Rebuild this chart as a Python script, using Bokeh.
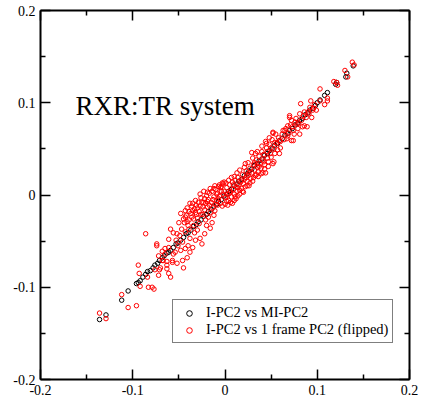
from bokeh.plotting import figure
from bokeh.models import (Range1d, LinearAxis, FixedTicker, Legend, LegendItem,
                          Label, CustomJSTickFormatter, ColumnDataSource)
from bokeh.embed import file_html
from bokeh.resources import INLINE

# ---------------- data ----------------
tick_values = [-0.2, -0.1, 0.0, 0.1, 0.2]
minor_values = [-0.15, -0.05, 0.05, 0.15]
tick_labels = ["-0.2", "-0.1", "0", "0.1", "0.2"]

series_names = ["I-PC2 vs MI-PC2", "I-PC2 vs 1 frame PC2 (flipped)"]
title_text = "RXR:TR system"

# I-PC2 vs MI-PC2 (black)
bx = [-0.136, -0.129, -0.112, -0.105, -0.096, -0.094, -0.092, -0.089, -0.086, -0.084,
      -0.081, -0.078, -0.076, -0.073, -0.071, -0.068, -0.066, -0.063, -0.061,
      -0.059, -0.056, -0.053, -0.051, -0.048, -0.045, -0.042, -0.040, -0.037, -0.034,
      -0.031, -0.029, -0.026, -0.023, -0.020, -0.018, -0.015, -0.012, -0.009, -0.007,
      -0.004, -0.001, 0.002, 0.004, 0.007, 0.010, 0.013, 0.015, 0.018, 0.021,
      0.024, 0.026, 0.029, 0.032, 0.035, 0.037, 0.040, 0.043, 0.046, 0.048,
      0.051, 0.054, 0.057, 0.059, 0.062, 0.065, 0.068, 0.070, 0.073, 0.076,
      0.079, 0.081, 0.084, 0.087, 0.090, 0.092, 0.095, 0.098,
      0.100, 0.103, 0.108, 0.111, 0.120, 0.121, 0.131, 0.132, 0.139]
by = [-0.135, -0.130, -0.114, -0.104, -0.096, -0.095, -0.093, -0.089, -0.086, -0.083,
      -0.082, -0.079, -0.076, -0.074, -0.071, -0.068, -0.066, -0.063, -0.062,
      -0.060, -0.057, -0.053, -0.052, -0.049, -0.046, -0.042, -0.041, -0.038, -0.034,
      -0.032, -0.029, -0.027, -0.023, -0.021, -0.018, -0.016, -0.012, -0.010, -0.007,
      -0.005, -0.001, 0.001, 0.004, 0.006, 0.010, 0.012, 0.015, 0.017, 0.021,
      0.023, 0.026, 0.028, 0.032, 0.034, 0.037, 0.039, 0.043, 0.045, 0.048,
      0.050, 0.054, 0.056, 0.059, 0.061, 0.065, 0.067, 0.070, 0.072, 0.076,
      0.078, 0.081, 0.083, 0.087, 0.089, 0.092, 0.094, 0.097,
      0.100, 0.103, 0.108, 0.111, 0.120, 0.122, 0.128, 0.132, 0.140]

# I-PC2 vs 1 frame PC2 (flipped) (red)
rx = [-0.136, -0.129, -0.112, -0.105, -0.096, -0.094, -0.093, -0.092,
      -0.086, -0.084, -0.083, -0.079, -0.077, -0.076, -0.074, -0.072,
      -0.072, -0.071, -0.067, -0.065, -0.063, -0.063, -0.061, -0.059,
      -0.074, -0.068, -0.065, -0.059, -0.056, -0.061, -0.052, -0.054,
      -0.057, -0.051, -0.046, -0.050, -0.048, -0.043, -0.039, -0.041,
      -0.038, -0.035, -0.032, -0.030, -0.027, -0.025, -0.022, -0.019,
      -0.016, -0.011, -0.008, -0.005, -0.002, 0.000, -0.009, -0.013,
      -0.016, -0.018, -0.014, -0.016, -0.022, -0.027, -0.025, -0.032,
      -0.035, -0.038, -0.040, -0.038, -0.041, -0.046, -0.052, -0.045,
      -0.063, -0.070, -0.068, -0.057, -0.056, -0.061, -0.044, -0.042,
      -0.040, -0.037, -0.036, -0.034, -0.033, -0.031, -0.029, -0.028,
      -0.026, -0.024, -0.023, -0.021, -0.020, -0.018, -0.017, -0.015,
      -0.014, -0.012, -0.010, -0.009, -0.007, -0.006, -0.004, -0.003,
      -0.047, -0.049, -0.053, -0.043, -0.039, -0.034, -0.030, -0.028,
      -0.024, -0.021, -0.019, -0.011, -0.008, -0.005, -0.048, -0.043,
      -0.033, -0.030, -0.020, -0.012,
      -0.001, 0.001, 0.002, 0.003, 0.004, 0.005, 0.006, 0.007,
      0.008, 0.008, 0.009, 0.010, 0.011, 0.012, 0.012, 0.013,
      0.014, 0.015, 0.016, 0.017, 0.018, 0.019, 0.019, 0.020,
      0.021, 0.022, 0.022, 0.023, 0.024, 0.025, 0.026, 0.027,
      0.028, 0.029, 0.029, 0.030, 0.031, 0.032, 0.033, 0.033,
      0.034, 0.035, 0.036, 0.037, 0.038, 0.039, 0.040, 0.041,
      0.041, 0.042, 0.043, 0.044, 0.045, 0.046, 0.047, 0.048,
      0.049, 0.050, 0.051, 0.052, 0.052, 0.053, 0.054, 0.055,
      0.056, 0.057, 0.058, 0.059, 0.060, -0.003, 0.000, 0.003,
      0.006, 0.010, 0.014, 0.016, 0.020, 0.024, 0.027, 0.031,
      0.034, 0.036, 0.039, 0.043, 0.047, 0.001, 0.004, 0.007,
      0.010, 0.013, 0.016, 0.021, 0.025, 0.030, 0.035, 0.040,
      0.044, 0.048, -0.004, -0.001,
      0.103, 0.111, 0.108, 0.103, 0.082, 0.092, 0.097, 0.081,
      0.090, 0.085, 0.094, 0.095, 0.070, 0.072, 0.068, 0.076,
      0.084, 0.089, 0.079, 0.074, 0.065, 0.068, 0.052, 0.081,
      0.067, 0.059, 0.072, 0.045, 0.056, 0.070, 0.086, 0.074,
      0.053, 0.062, 0.064, 0.066, 0.069, 0.071, 0.073,
      0.075, 0.077, 0.078, 0.080, 0.083, 0.086, 0.088, 0.091,
      0.093, 0.096, 0.099, 0.060, 0.063,
      0.138, 0.140, 0.130, 0.133, 0.118, 0.122, 0.121, 0.111,
      -0.045, -0.043, -0.041, -0.039, -0.036, -0.035, -0.032, -0.031,
      -0.027, -0.026, -0.023, -0.022, -0.019, -0.017, -0.013, -0.012,
      -0.010, -0.007, -0.006, -0.002, 0.002, 0.005, 0.009, 0.011,
      0.014, 0.018, 0.023, 0.026, 0.032, 0.037, 0.042, 0.046,
      0.050, 0.054]
ry = [-0.128, -0.134, -0.108, -0.122, -0.120, -0.076, -0.085, -0.099,
      -0.042, -0.089, -0.100, -0.100, -0.102, -0.081, -0.055, -0.066,
      -0.087, -0.081, -0.071, -0.058, -0.072, -0.080, -0.085, -0.089,
      -0.053, -0.061, -0.064, -0.037, -0.041, -0.048, -0.042, -0.062,
      -0.071, -0.055, -0.051, -0.030, -0.020, -0.024, -0.027, -0.014,
      -0.009, -0.017, -0.006, -0.014, 0.001, -0.008, -0.004, 0.003,
      0.007, 0.010, 0.002, 0.008, 0.012, -0.003, -0.006, -0.014,
      -0.019, -0.024, -0.030, -0.036, -0.042, -0.047, -0.053, -0.049,
      -0.057, -0.047, -0.055, -0.062, -0.068, -0.071, -0.074, -0.079,
      -0.076, -0.079, -0.071, -0.073, -0.064, -0.057, -0.030, -0.022,
      -0.033, -0.020, -0.012, -0.026, -0.015, -0.021, -0.008, -0.018,
      -0.003, -0.013, 0.004, -0.009, -0.001, -0.005, 0.002, -0.008,
      0.004, -0.002, 0.006, 0.001, 0.009, -0.001, 0.004, 0.013,
      -0.037, -0.044, -0.049, -0.040, -0.037, -0.033, -0.025, -0.031,
      -0.021, -0.027, -0.013, -0.017, -0.011, -0.009, -0.060, -0.058,
      -0.041, -0.038, -0.033, -0.022,
      0.004, -0.002, 0.008, 0.001, -0.006, 0.011, 0.004, -0.002,
      0.014, -0.009, 0.006, 0.001, 0.016, 0.009, -0.004, 0.004,
      0.019, 0.011, 0.001, 0.014, 0.007, 0.004, 0.022, 0.012,
      0.017, 0.034, 0.009, 0.026, 0.015, 0.021, 0.010, 0.029,
      0.018, 0.046, 0.024, 0.015, 0.033, 0.027, 0.045, 0.021,
      0.038, 0.030, 0.025, 0.042, 0.034, 0.029, 0.047, 0.024,
      0.038, 0.044, 0.033, 0.024, 0.051, 0.040, 0.036, 0.055,
      0.045, 0.041, 0.060, 0.067, 0.034, 0.050, 0.045, 0.066,
      0.056, 0.049, 0.062, 0.045, 0.058, -0.012, -0.010, -0.011,
      -0.008, -0.006, -0.001, 0.005, 0.003, 0.010, 0.013, 0.019,
      0.022, 0.020, 0.023, 0.028, 0.031, 0.013, 0.016, 0.019,
      0.020, 0.024, 0.027, 0.030, 0.035, 0.040, 0.047, 0.053,
      0.058, 0.062, 0.009, 0.014,
      0.115, 0.105, 0.098, 0.102, 0.099, 0.095, 0.098, 0.088,
      0.090, 0.086, 0.084, 0.092, 0.084, 0.081, 0.075, 0.079,
      0.074, 0.074, 0.072, 0.070, 0.070, 0.064, 0.068, 0.066,
      0.061, 0.059, 0.059, 0.056, 0.056, 0.086, 0.075, 0.059,
      0.036, 0.066, 0.060, 0.072, 0.067, 0.076, 0.074,
      0.066, 0.083, 0.077, 0.078, 0.081, 0.090, 0.084, 0.088,
      0.102, 0.094, 0.092, 0.051, 0.070,
      0.144, 0.141, 0.135, 0.128, 0.123, 0.119, 0.122, 0.102,
      -0.026, -0.017, -0.029, -0.018, -0.024, -0.009, -0.019, -0.011,
      -0.012, -0.021, -0.008, -0.016, -0.007, -0.011, -0.005, 0.007,
      -0.010, -0.004, 0.011, 0.001, -0.007, 0.002, 0.011, -0.002,
      0.008, 0.016, 0.019, 0.024, 0.035, 0.031, 0.036, 0.047,
      0.051, 0.057]

# ---------------- figure ----------------
FONT = "Liberation Serif"

p = figure(width=422, height=404, output_backend="svg", toolbar_location=None,
           x_range=Range1d(-0.2, 0.2), y_range=Range1d(-0.2, 0.2),
           x_axis_location=None, y_axis_location=None,
           min_border_left=40, min_border_right=13, min_border_top=10,
           min_border_bottom=25)
p.outline_line_color = None
p.xgrid.visible = False
p.ygrid.visible = False
p.background_fill_color = "white"
p.border_fill_color = "white"

ticker = FixedTicker(ticks=tick_values, minor_ticks=minor_values)
overrides = {v: s for v, s in zip(tick_values, tick_labels)}
blank = CustomJSTickFormatter(code="return '';")


def style_axis(ax, labels):
    ax.ticker = ticker
    ax.axis_line_width = 2
    ax.axis_line_color = "black"
    ax.major_tick_in = 10
    ax.major_tick_out = 0
    ax.minor_tick_in = 5
    ax.minor_tick_out = 0
    ax.major_tick_line_width = 1.5
    ax.minor_tick_line_width = 1.5
    ax.major_tick_line_color = "black"
    ax.minor_tick_line_color = "black"
    if labels:
        ax.major_label_overrides = overrides
        ax.major_label_text_font = FONT
        ax.major_label_text_font_size = "14px"
        ax.major_label_text_color = "black"
        ax.major_label_standoff = 5
    else:
        ax.formatter = blank
        ax.major_label_standoff = 0
        ax.major_label_text_font_size = "1px"


bottom = LinearAxis()
left = LinearAxis()
top = LinearAxis()
right = LinearAxis()
style_axis(bottom, True)
style_axis(left, True)
style_axis(top, False)
style_axis(right, False)
p.add_layout(bottom, "below")
p.add_layout(left, "left")
p.add_layout(top, "above")
p.add_layout(right, "right")

src_b = ColumnDataSource(dict(x=bx, y=by))
src_r = ColumnDataSource(dict(x=rx, y=ry))

rb = p.scatter("x", "y", source=src_b, marker="circle", size=4.5,
               line_color="black", line_width=1, fill_color=None)
rr = p.scatter("x", "y", source=src_r, marker="circle", size=4.5,
               line_color="#ff0000", line_width=1, fill_color=None)

legend = Legend(items=[LegendItem(label=series_names[0], renderers=[rb]),
                       LegendItem(label=series_names[1], renderers=[rr])],
                location=(132, 36))
legend.label_text_font = FONT
legend.label_text_font_size = "14.5px"
legend.label_text_color = "black"
legend.border_line_color = "black"
legend.border_line_width = 1
legend.background_fill_color = "white"
legend.background_fill_alpha = 1
legend.padding = 4
legend.spacing = 0
legend.margin = 0
legend.glyph_width = 24
legend.glyph_height = 14
legend.label_height = 14
legend.label_standoff = 5
p.add_layout(legend)

title = Label(x=-0.162, y=0.097, text=title_text, text_font=FONT,
              text_font_size="27px", text_color="black",
              text_baseline="alphabetic", text_align="left")
p.add_layout(title)

open("out.html", "w").write(file_html(p, INLINE))
